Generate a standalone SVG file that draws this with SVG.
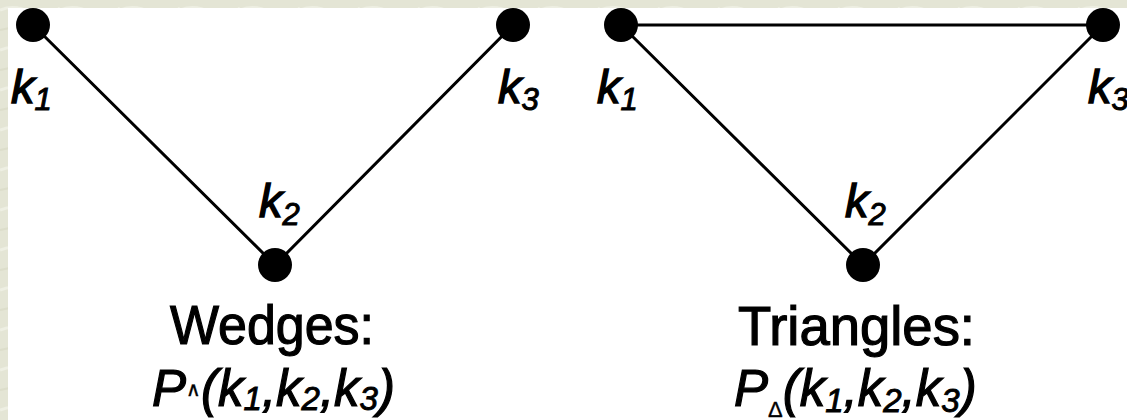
<svg xmlns="http://www.w3.org/2000/svg" width="1127" height="420" viewBox="0 0 1127 420">
  <style>
    .dot { fill: #000; }
    .edge { stroke: #000; stroke-width: 3; fill: none; stroke-linecap: round; }
    .lbl { font-family: "Liberation Sans", Arial, sans-serif; font-style: italic; font-size: 47px; fill: #000; stroke: #000; stroke-width: 1.4; }
    .sub { font-size: 31px; stroke-width: 1; }
    .cap { font-family: "Liberation Sans", Arial, sans-serif; font-size: 55px; fill: #000; stroke: #000; stroke-width: 1.2; }
    .form { font-family: "Liberation Sans", Arial, sans-serif; font-style: italic; font-size: 51px; fill: #000; stroke: #000; stroke-width: 1.2; }
    .fsub { font-size: 33px; stroke-width: 0.9; }
    .sym { font-style: normal; stroke-width: 0.4; }
  </style>
  <defs>
    <pattern id="tex" width="60" height="40" patternUnits="userSpaceOnUse">
      <rect width="60" height="40" fill="#e4e5d5"/>
      <path d="M0 10 Q15 4 30 12 T60 8" stroke="#eeefe3" stroke-width="3" fill="none"/>
      <path d="M0 30 Q20 24 35 32 T60 28" stroke="#dcddca" stroke-width="2" fill="none"/>
    </pattern>
  </defs>
  <rect x="0" y="0" width="1127" height="420" fill="url(#tex)"/>
  <rect x="8" y="8" width="1119" height="412" fill="#ffffff"/>

  <g id="connectors">
    <line class="edge" x1="33" y1="25" x2="275" y2="265"/>
    <line class="edge" x1="275" y1="265" x2="513" y2="25"/>
    <line class="edge" x1="621" y1="25" x2="1103" y2="25"/>
    <line class="edge" x1="621" y1="25" x2="863" y2="265"/>
    <line class="edge" x1="863" y1="265" x2="1103" y2="25"/>
  </g>

  <g id="wedge-k1">
    <circle class="dot" cx="33" cy="25" r="17"/>
    <text class="lbl" x="11" y="103">k<tspan class="sub" dy="7">1</tspan></text>
  </g>
  <g id="wedge-k2">
    <circle class="dot" cx="275" cy="265" r="17"/>
    <text class="lbl" x="259" y="217">k<tspan class="sub" dy="8">2</tspan></text>
  </g>
  <g id="wedge-k3">
    <circle class="dot" cx="513" cy="25" r="17"/>
    <text class="lbl" x="498" y="103">k<tspan class="sub" dy="7">3</tspan></text>
  </g>

  <g id="triangle-k1">
    <circle class="dot" cx="621" cy="25" r="17"/>
    <text class="lbl" x="597" y="103">k<tspan class="sub" dy="7">1</tspan></text>
  </g>
  <g id="triangle-k2">
    <circle class="dot" cx="863" cy="265" r="17"/>
    <text class="lbl" x="845" y="217">k<tspan class="sub" dy="8">2</tspan></text>
  </g>
  <g id="triangle-k3">
    <circle class="dot" cx="1103" cy="25" r="17"/>
    <text class="lbl" x="1088" y="103">k<tspan class="sub" dy="7">3</tspan></text>
  </g>

  <g id="wedge-caption">
    <text class="cap" x="170" y="344" textLength="204" lengthAdjust="spacingAndGlyphs">Wedges:</text>
    <text class="form" x="152" y="406">P<tspan class="sym" font-size="20" dy="-10">∧</tspan><tspan dy="10">(k</tspan><tspan class="fsub" dy="4">1</tspan><tspan dy="-4">,k</tspan><tspan class="fsub" dy="4">2</tspan><tspan dy="-4">,k</tspan><tspan class="fsub" dy="4">3</tspan><tspan dy="-4">)</tspan></text>
  </g>
  <g id="triangle-caption">
    <text class="cap" x="738" y="345" textLength="237" lengthAdjust="spacingAndGlyphs">Triangles:</text>
    <text class="form" x="734" y="406">P<tspan class="sym" font-size="22" dy="11">Δ</tspan><tspan dy="-11">(k</tspan><tspan class="fsub" dy="6">1</tspan><tspan dy="-6">,k</tspan><tspan class="fsub" dy="6">2</tspan><tspan dy="-6">,k</tspan><tspan class="fsub" dy="6">3</tspan><tspan dy="-6">)</tspan></text>
  </g>
</svg>
